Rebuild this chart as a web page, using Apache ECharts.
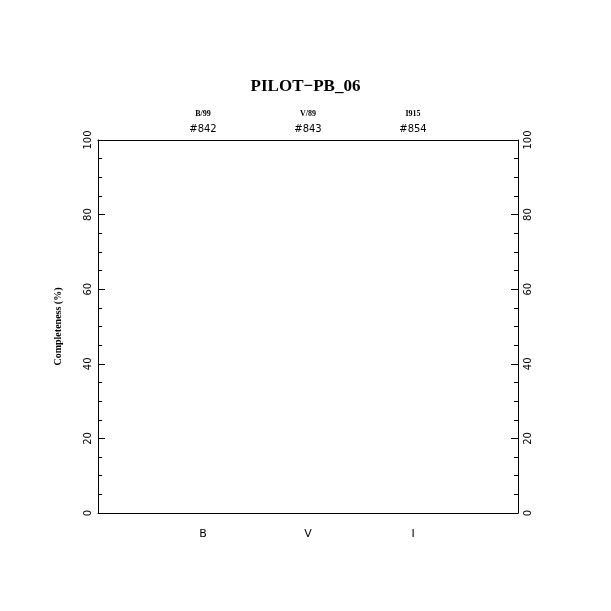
<!DOCTYPE html>
<html>
<head>
<meta charset="utf-8">
<script src="https://cdn.jsdelivr.net/npm/echarts@6/dist/echarts.min.js"></script>
<style>html,body{margin:0;padding:0;background:#fff;}#c{width:611px;height:611px;}</style>
</head>
<body>
<div id="c"></div>
<script>
var title = 'PILOT\u2212PB_06';
var bands = ['B', 'V', 'I'];
var filters = ['B/99', 'V/89', 'I915'];
var frameIds = ['#842', '#843', '#854'];
var yTicks = [0, 20, 40, 60, 80, 100];
var completeness = []; // no data points drawn in the reference

var chart = echarts.init(document.getElementById('c'), null, {renderer: 'canvas'});
var axisLine = {show: true, onZero: false, lineStyle: {color: '#000', width: 1}};
function bandLabel(arr) {
  return function (v) { var i = Math.round(v) - 1; return (i >= 0 && i < arr.length && Math.abs(v - i - 1) < 1e-6) ? arr[i] : ''; };
}
var yAxisBase = {
  type: 'value', min: 0, max: 100, interval: 20,
  axisLine: axisLine,
  axisTick: {show: true, inside: true, length: 7, lineStyle: {color: '#000'}},
  minorTick: {show: true, splitNumber: 4, length: 4, lineStyle: {color: '#000'}},
  splitLine: {show: false},
  axisLabel: {show: true, rotate: 90, margin: 5, color: '#000', fontSize: 10, fontFamily: 'DejaVu Sans',
    formatter: function (v) { return yTicks.indexOf(v) >= 0 ? String(v) : ''; }}
};
chart.setOption({
  animation: false,
  title: {text: title, left: 'center', top: 73, textStyle: {fontFamily: 'Liberation Serif', fontWeight: 'bold', fontSize: 17, color: '#000'}},
  grid: {left: 98, right: 93, top: 140, bottom: 98, containLabel: false},
  xAxis: [
    {type: 'value', position: 'bottom', min: 0, max: 4, interval: 1,
     axisLine: axisLine, axisTick: {show: false}, splitLine: {show: false},
     axisLabel: {margin: 16, color: '#000', fontSize: 11, fontFamily: 'DejaVu Sans', formatter: bandLabel(bands)}},
    {type: 'value', position: 'top', min: 0, max: 4, interval: 1,
     axisLine: axisLine, axisTick: {show: false}, splitLine: {show: false},
     axisLabel: {margin: 4, color: '#000', fontFamily: 'DejaVu Sans',
       formatter: function (v) { var i = Math.round(v) - 1; if (i < 0 || i >= filters.length || Math.abs(v - i - 1) > 1e-6) return ''; return '{a|' + filters[i] + '}\n{b|' + frameIds[i] + '}'; },
       rich: {a: {fontSize: 8, fontFamily: 'Liberation Serif', fontWeight: 'bold', color: '#000', lineHeight: 17}, b: {fontSize: 10, fontFamily: 'DejaVu Sans', color: '#000', lineHeight: 14}}}}
  ],
  yAxis: [
    Object.assign({}, yAxisBase, {position: 'left', name: 'Completeness (%)', nameLocation: 'middle', nameRotate: 90, nameGap: 35,
      nameTextStyle: {fontFamily: 'Liberation Serif', fontWeight: 'bold', fontSize: 10, color: '#000'}}),
    Object.assign({}, yAxisBase, {position: 'right'})
  ],
  series: [{type: 'line', xAxisIndex: 0, yAxisIndex: 0, data: completeness, symbol: 'none'}]
});
</script>
</body>
</html>
